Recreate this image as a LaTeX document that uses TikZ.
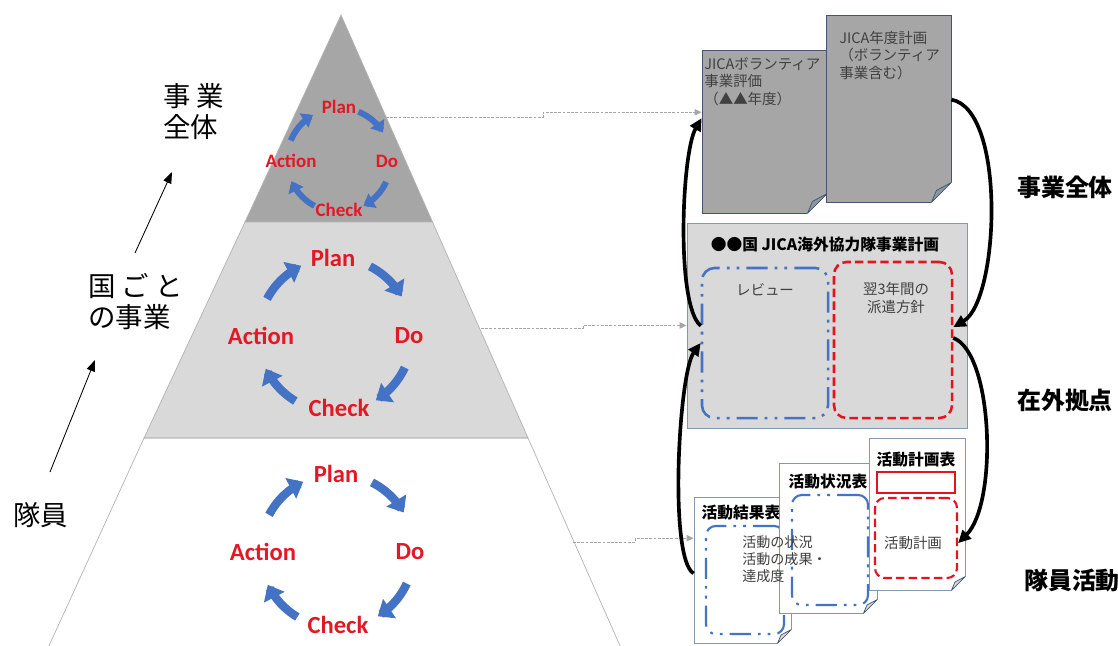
\documentclass[tikz,border=0pt]{standalone}
\usepackage{fontspec}
\setmainfont{Noto Sans CJK JP}
\newfontfamily\pdcafont{Carlito}
\usepackage{tikz}
\usetikzlibrary{arrows.meta, positioning, calc}
\definecolor{darkband}{RGB}{166,166,166}
\definecolor{lightband}{RGB}{217,217,217}
\definecolor{cycleblue}{RGB}{68,114,196}
\definecolor{pdcared}{RGB}{226,24,36}
\definecolor{planred}{RGB}{228,20,30}
\definecolor{docedge}{RGB}{68,84,106}
\definecolor{boxedge}{RGB}{132,151,176}
\definecolor{dotgray}{RGB}{165,165,165}
\definecolor{textgray}{RGB}{64,64,64}
\definecolor{folddark}{RGB}{140,150,166}
\definecolor{foldlight}{RGB}{214,220,229}
\tikzset{
    tier/.style={inner sep=0pt, align=left, font=\fontsize{19.5}{22}\selectfont},
    sidelabel/.style={inner sep=0pt, font=\bfseries\fontsize{17}{20}\selectfont},
    pdca/.style={inner sep=0pt, text=pdcared, font=\pdcafont\bfseries\fontsize{17.5}{18}\selectfont},
    pdcasmall/.style={inner sep=0pt, text=pdcared, font=\pdcafont\bfseries\fontsize{13.5}{14}\selectfont},
    cyclearrow/.style={draw=cycleblue, line width=6pt, -{Triangle[length=10pt, width=16pt]}},
    cyclearrowsmall/.style={draw=cycleblue, line width=4.3pt, -{Triangle[length=7.5pt, width=11.5pt]}},
    sheet/.style={rectangle, draw=docedge, line width=0.6pt, inner sep=0pt},
    doctext/.style={inner sep=0pt, align=left, text=textgray, font=\fontsize{10.3}{12.4}\selectfont},
    sheettitle/.style={inner sep=0pt, font=\bfseries\fontsize{11.2}{13}\selectfont},
    reviewline/.style={rectangle, rounded corners=9pt, draw=cycleblue, line width=1.8pt, dash pattern={on 15pt off 5pt on 2pt off 5pt on 2pt off 5pt}},
    reddash/.style={rectangle, rounded corners=9pt, draw=planred, line width=1.8pt, dash pattern={on 6pt off 3pt}},
    feed/.style={line width=2.6pt, -{Triangle[length=9pt, width=8.5pt]}},
    rise/.style={line width=0.6pt, -{Triangle[length=8pt, width=6pt]}},
    link/.style={draw=dotgray, line width=0.7pt, dash pattern={on 2pt off 1pt}, -{Triangle[length=5pt, width=4.5pt]}}
}
\newcommand{\foldcorner}[3]{%
    \fill[white] ($(#1.south east)+(-#2-1,1)$) -- ($(#1.south east)+(1,1)$) -- ($(#1.south east)+(1,-#2-1)$) -- cycle;
    \filldraw[fill=#3, draw=docedge, line width=0.5pt, line join=round] ($(#1.south east)+(-#2,0)$) -- ($(#1.south east)+(0,-#2)$) -- ($(#1.south east)+(-0.75*#2,-0.6*#2)$) -- cycle;
}

\begin{document}
\begin{tikzpicture}[x=0.025cm, y=-0.025cm]
    \useasboundingbox (0,0) rectangle (1118,645);
    % Pyramid
    \filldraw[fill=darkband, draw=gray!60, line width=0.5pt] (341,15) -- (432.5,222) -- (245,222) -- cycle;
    \filldraw[fill=lightband, draw=gray!60, line width=0.5pt] (245,222) -- (432.5,222) -- (528,438) -- (144,438) -- cycle;
    \draw[gray!60, line width=0.5pt] (48,648) -- (144,438) -- (528,438) -- (621,648);
    \coordinate (edge_top) at (386,117);
    \coordinate (edge_mid) at (481,328);
    \coordinate (edge_low) at (573,542);

    % PDCA cycles
    \coordinate (cyc_top) at (339,160);
    \coordinate (cyc_mid) at (335,335);
    \coordinate (cyc_low) at (337,551);
    \node[pdcasmall] (plan_top) at (339,107) {Plan};
    \node[pdcasmall] (do_top) at (387,161) {Do};
    \node[pdcasmall] (check_top) at (339,210) {Check};
    \node[pdcasmall] (action_top) at (291,161) {Action};
    \draw[cyclearrowsmall, shift={(cyc_top)}] plot[domain=202:240, samples=12] (\x:52);
    \draw[cyclearrowsmall, shift={(cyc_top)}] plot[domain=292:328, samples=12] (\x:52);
    \draw[cyclearrowsmall, shift={(cyc_top)}] plot[domain=25:62, samples=12] (\x:52);
    \draw[cyclearrowsmall, shift={(cyc_top)}] plot[domain=118:156, samples=12] (\x:52);

    \node[pdca] (plan_mid) at (333,258) {Plan};
    \node[pdca] (do_mid) at (409,336) {Do};
    \node[pdca] (check_mid) at (339,408) {Check};
    \node[pdca] (action_mid) at (261,336) {Action};
    \draw[cyclearrow, shift={(cyc_mid)}] plot[domain=208:244, samples=12] (\x:77);
    \draw[cyclearrow, shift={(cyc_mid)}] plot[domain=297:330, samples=12] (\x:77);
    \draw[cyclearrow, shift={(cyc_mid)}] plot[domain=25:58, samples=12] (\x:77);
    \draw[cyclearrow, shift={(cyc_mid)}] plot[domain=121:154, samples=12] (\x:77);

    \node[pdca] (plan_low) at (336,474) {Plan};
    \node[pdca] (do_low) at (410,552) {Do};
    \node[pdca] (check_low) at (338,625) {Check};
    \node[pdca] (action_low) at (263,552) {Action};
    \draw[cyclearrow, shift={(cyc_low)}] plot[domain=208:244, samples=12] (\x:77);
    \draw[cyclearrow, shift={(cyc_low)}] plot[domain=297:330, samples=12] (\x:77);
    \draw[cyclearrow, shift={(cyc_low)}] plot[domain=25:58, samples=12] (\x:77);
    \draw[cyclearrow, shift={(cyc_low)}] plot[domain=121:154, samples=12] (\x:77);

    % Levels on the left
    \node[tier, anchor=west] (level_top) at (163,112) {事 業\\全体};
    \node[tier, anchor=west] (level_mid) at (88,302) {国 ご と\\の事業};
    \node[tier, anchor=west] (level_low) at (13,515) {隊員};
    \coordinate (rise_a_from) at (50,472);
    \coordinate (rise_a_to) at (95,360);
    \coordinate (rise_b_from) at (135,253);
    \coordinate (rise_b_to) at (172,172);
    \draw[rise] (rise_a_from) -- (rise_a_to);
    \draw[rise] (rise_b_from) -- (rise_b_to);

    % Whole programme documents
    \node[sheet, fill=darkband, minimum width=3.125cm, minimum height=4.075cm] (eval_doc) at (764.5,131.5) {};
    \foldcorner{eval_doc}{20}{folddark}
    \node[doctext, anchor=north west] (eval_text) at (704,57) {JICAボランティア\\事業評価\\（▲▲年度）};
    \node[sheet, fill=darkband, minimum width=3.125cm, minimum height=4.675cm] (year_doc) at (888.5,108.5) {};
    \foldcorner{year_doc}{20}{folddark}
    \node[doctext, anchor=north west] (year_text) at (839,31) {JICA年度計画\\（ボランティア\\事業含む）};

    % Country plan
    \node[sheet, fill=lightband, draw=boxedge, minimum width=7cm, minimum height=5.125cm] (country_plan) at (827,325.5) {};
    \node[sheettitle] (country_title) at (825,245) {●●国 JICA海外協力隊事業計画};
    \node[reviewline, minimum width=3.15cm, minimum height=3.75cm] (review_box) at (765,343) {};
    \node[doctext] (review_text) at (765,290) {レビュー};
    \node[reddash, minimum width=2.95cm, minimum height=3.9cm] (dispatch_box) at (893,340) {};
    \node[doctext, align=center] (dispatch_text) at (896,298) {翌3年間の\\派遣方針};

    % Volunteer sheets
    \node[sheet, fill=white, draw=boxedge, minimum width=2.425cm, minimum height=3.65cm] (result_sheet) at (742.5,570) {};
    \foldcorner{result_sheet}{14}{foldlight}
    \node[reviewline, line width=1.5pt, rounded corners=7pt, minimum width=1.95cm, minimum height=2.7cm] (result_box) at (745,580) {};
    \node[sheettitle] (result_title) at (741,513) {活動結果表};
    \node[sheet, fill=white, draw=boxedge, minimum width=2.45cm, minimum height=3.75cm] (status_sheet) at (828,538) {};
    \foldcorner{status_sheet}{14}{foldlight}
    \node[reviewline, line width=1.5pt, rounded corners=7pt, minimum width=1.9cm, minimum height=2.75cm] (status_box) at (830,550) {};
    \node[sheettitle] (status_title) at (828,482) {活動状況表};
    \node[sheet, fill=white, draw=boxedge, minimum width=2.4cm, minimum height=3.8cm] (plan_sheet) at (917,514) {};
    \foldcorner{plan_sheet}{14}{foldlight}
    \node[sheettitle] (plan_title) at (916,460) {活動計画表};
    \node[rectangle, draw=planred, line width=1pt, minimum width=1.95cm, minimum height=0.525cm] (plan_rect) at (916,482.5) {};
    \node[reddash, line width=1.5pt, rounded corners=7pt, minimum width=2.05cm, minimum height=2cm] (plan_box) at (916,538) {};
    \node[doctext] (plan_text) at (913,543) {活動計画};
    \node[doctext, anchor=north west, font=\fontsize{10}{12.4}\selectfont] (result_text) at (742,535) {活動の状況\\活動の成果・\\達成度};

    % Links from the pyramid
    \draw[link] (edge_top) -- ++(157,0) |- (eval_doc.163);
    \draw[link] (edge_mid) -- ++(102,0) |- (country_plan.west);
    \draw[link] (edge_low) -- ++(62,0) |- (result_sheet.147);

    % Feedback loop
    \draw[feed] (result_sheet.184) .. controls +(-25,-15) and +(-22,30) .. (review_box.west);
    \draw[feed] (review_box.165) .. controls +(-25,-20) and +(-20,35) .. (eval_doc.168);
    \draw[feed] (year_doc.8) .. controls +(55,10) and +(46,-27) .. (dispatch_box.12);
    \draw[feed] (dispatch_box.2) .. controls +(40,15) and +(40,-40) .. (plan_box.-7);

    % Side labels
    \node[sidelabel] (side_top) at (1065,187) {事業全体};
    \node[sidelabel] (side_mid) at (1065,400) {在外拠点};
    \node[sidelabel] (side_low) at (1072,580) {隊員活動};
\end{tikzpicture}
\end{document}
